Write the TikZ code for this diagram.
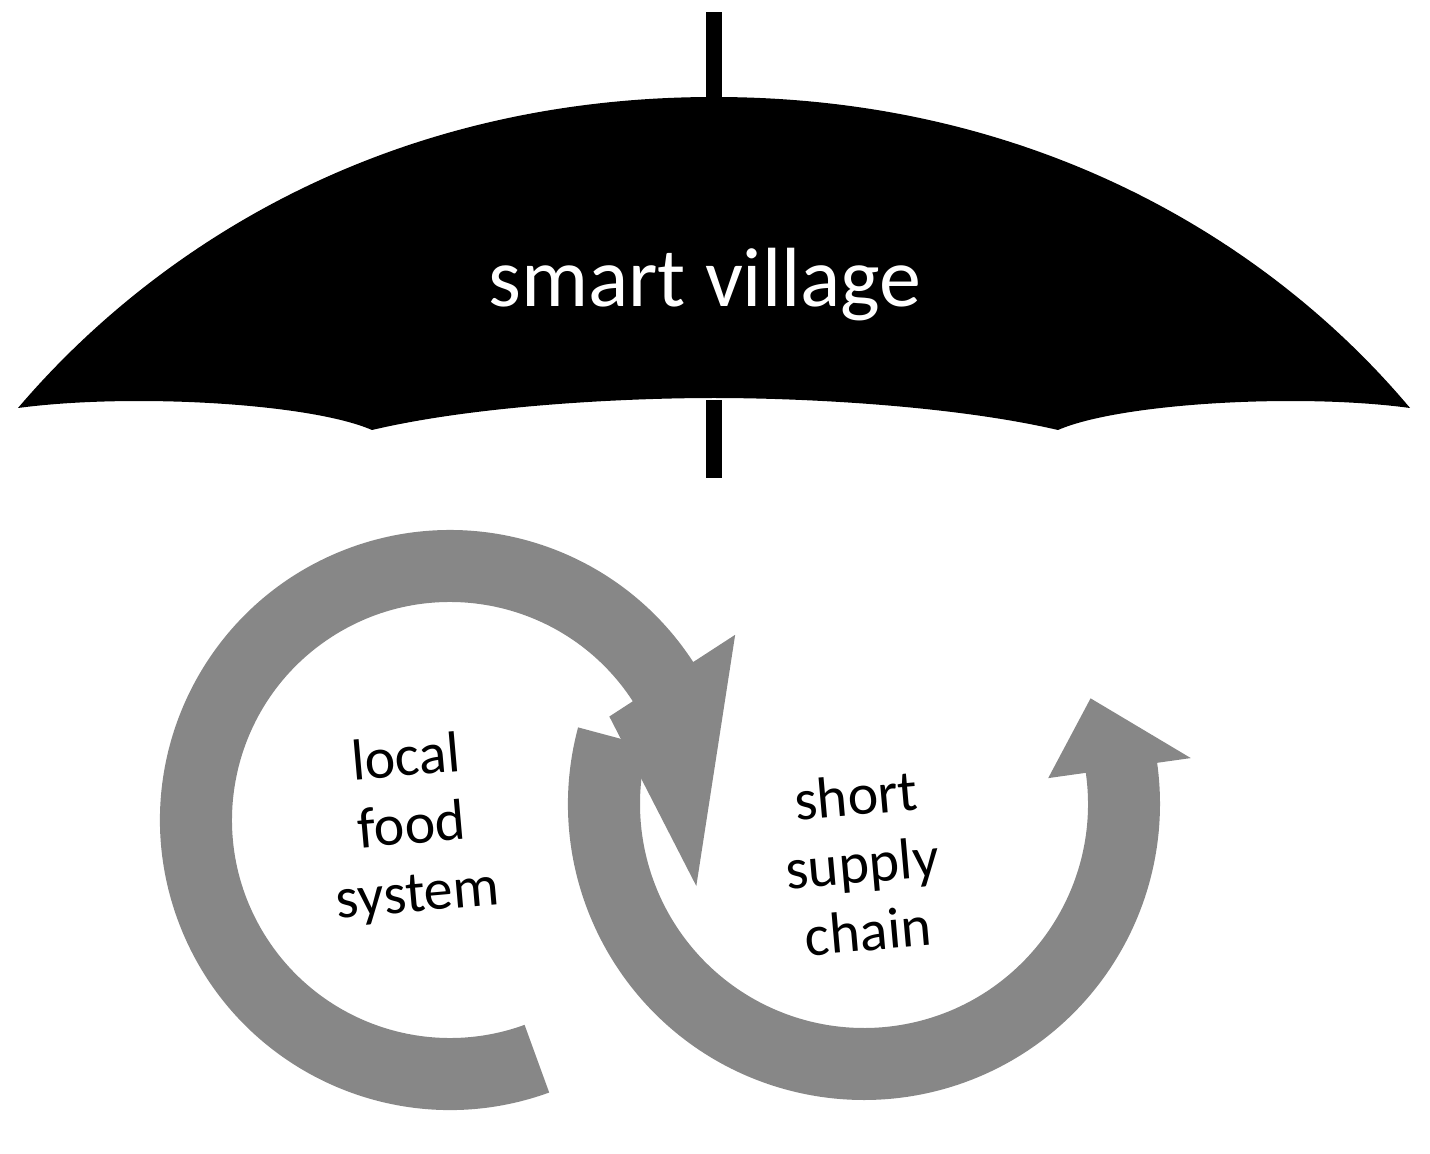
\documentclass[tikz,border=0pt]{standalone}
\usepackage{fontspec}
\setmainfont{Carlito}
\usetikzlibrary{calc}
\begin{document}
\begin{tikzpicture}[x=0.5pt,y=0.5pt]
\tikzset{ring/.style={fill=black!47,draw=none}}
\useasboundingbox (0,0) rectangle (1430,1153);
% handle
\fill (706,1141) rectangle (722,1040);
\fill (706,753) rectangle (722,675);
% canopy
\fill (18,745) .. controls (150,900) and (380,1056) .. (714,1056)
  .. controls (1048,1056) and (1280,900) .. (1410,745)
  .. controls (1300,760) and (1120,750) .. (1058,723)
  .. controls (950,748) and (800,755) .. (714,755)
  .. controls (628,755) and (478,748) .. (372,723)
  .. controls (310,750) and (130,760) .. (18,745) -- cycle;
\node[text=white,font=\fontsize{42}{50}\selectfont] (title) at (705,868) {smart village};
% left ring
\fill[ring] (450,333) ++(290:290) arc[start angle=290,end angle=33,radius=290]
  -- ($(450,333)+(33:340)$) -- ($(450,333)+(-15:255)$) -- ($(450,333)+(33:190)$)
  -- ($(450,333)+(33:218)$) arc[start angle=33,end angle=290,radius=218] -- cycle;
% right ring
\fill[ring] (864,349) ++(165:296) arc[start angle=165,end angle=368,radius=296]
  -- ($(864,349)+(368:330)$) -- ($(864,349)+(385:250)$) -- ($(864,349)+(368:186)$)
  -- ($(864,349)+(368:224)$) arc[start angle=368,end angle=165,radius=224] -- cycle;
\node[align=center,font=\fontsize{29}{34}\selectfont,rotate=5] (lfs) at (412,325) {local\\food\\system};
\node[align=center,font=\fontsize{29}{34}\selectfont,rotate=5] (ssc) at (862,290) {short\\supply\\chain};
\end{tikzpicture}
\end{document}
